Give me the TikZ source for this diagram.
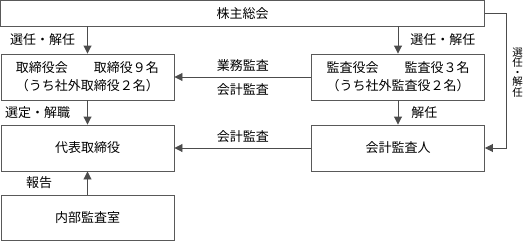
\documentclass[tikz,border=0pt]{standalone}
\usepackage{fontspec}
\setmainfont{Noto Sans CJK JP}
\usetikzlibrary{arrows.meta}
\begin{document}
\begin{tikzpicture}[
        x=1pt, y=-1pt,
        box/.style={draw=black!65, line width=0.9pt, align=center, inner sep=0pt,
            font=\fontsize{13}{18}\selectfont},
        wide/.style={box, minimum width=484pt, minimum height=25.5pt},
        unit/.style={box, minimum width=173pt, minimum height=46pt},
        link/.style={-{Triangle[width=8pt,length=8pt]}, draw=black!70, line width=0.9pt},
        lbl/.style={inner sep=0pt, font=\fontsize{13}{15}\selectfont},
        vlbl/.style={inner sep=0pt, align=center, font=\fontsize{10.5}{9.5}\selectfont}
    ]
        \useasboundingbox (0,0) rectangle (525,241);

        % Boxes
        \node[wide] (soukai) at (242.5,13.25) {株主総会};
        \node[unit] (torishimari) at (87.5,77) {取締役会　　取締役９名\\（うち社外取締役２名）};
        \node[unit] (kansayaku) at (398,77) {監査役会　　監査役３名\\（うち社外監査役２名）};
        \node[unit] (daihyo) at (87.5,148) {代表取締役};
        \node[unit] (kaikei) at (398,148) {会計監査人};
        \node[unit, minimum height=45pt] (naibu) at (87.5,217.5) {内部監査室};

        % Appointment lines
        \draw[link] (soukai.south -| torishimari.north) -- node[lbl, left=12pt] (sen1) {選任・解任} (torishimari.north);
        \draw[link] (soukai.south -| kansayaku.north) -- node[lbl, right=12pt] (sen2) {選任・解任} (kansayaku.north);
        \draw[link] (torishimari.south) -- node[lbl, left=17pt] (sentei) {選定・解職} (daihyo.north);
        \draw[link] (kansayaku.south) -- node[lbl, right=13pt] (kainin) {解任} (kaikei.north);
        \draw[link] (soukai.east) -- ++(21,0) |- node[vlbl, pos=0.22, right=6pt] (sen3) {選\\任\\・\\解\\任} (kaikei.east);

        % Audit lines
        \draw[link] (kansayaku.west) -- node[lbl, above=5pt] (gyoumu) {業務監査}
            node[lbl, below=6pt] (kansa1) {会計監査} (torishimari.east);
        \draw[link] (kaikei.west) -- node[lbl, above=5pt] (kansa2) {会計監査} (daihyo.east);

        % Report line
        \draw[link] (naibu.north) -- node[lbl, left=35pt] (houkoku) {報告} (daihyo.south);
    \end{tikzpicture}
\end{document}
